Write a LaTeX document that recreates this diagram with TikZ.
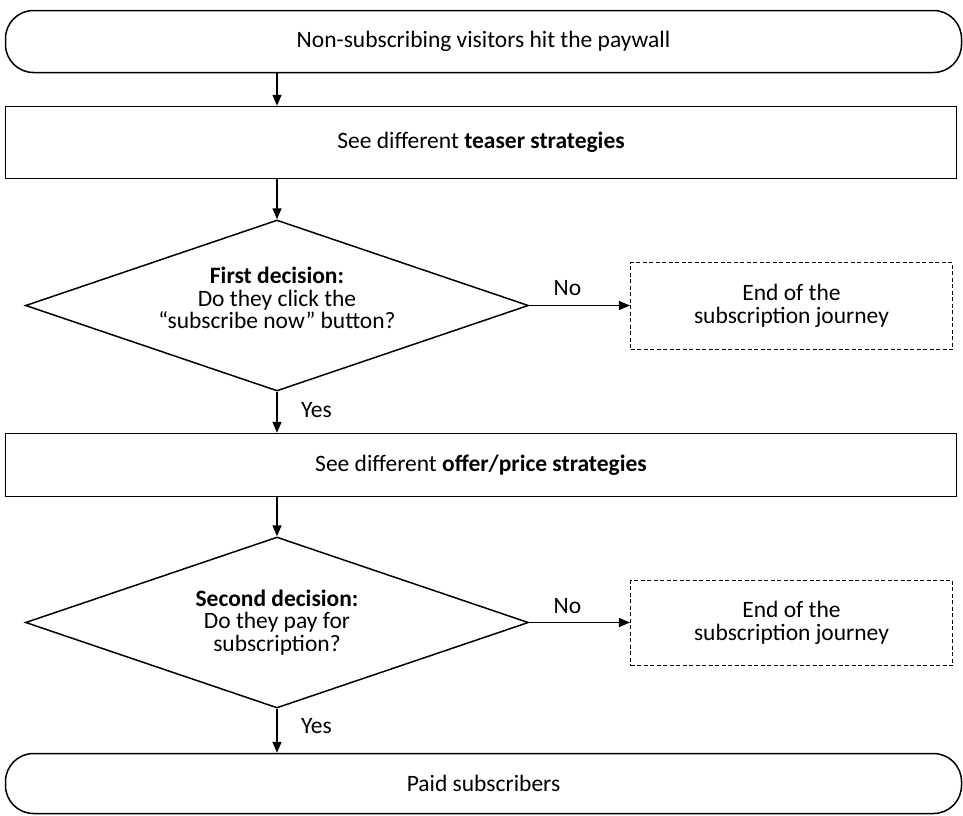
\documentclass[tikz,border=0pt]{standalone}
\usepackage{fontspec}
\setmainfont{Carlito}
\usetikzlibrary{positioning,shapes.geometric,arrows.meta}

\begin{document}
\begin{tikzpicture}[x=1pt, y=-1pt, line width=1.5pt,
    every node/.style={font=\fontsize{23.5}{22.5}\selectfont, align=center},
    >={Triangle[length=11pt,width=9pt]}]
    \useasboundingbox (0,0) rectangle (963,815);
    \node[draw, rounded corners=28pt, minimum width=956pt, minimum height=62pt] (hit) at (483.5,41.5) {Non-subscribing visitors hit the paywall};
    \node[draw, minimum width=951pt, minimum height=72pt] (teaser) at (481,142.5) {See different \textbf{teaser strategies}};
    \node[draw, diamond, aspect=3, inner sep=0pt, minimum width=503pt, minimum height=171pt] (click) at (277,305.5) {\textbf{First decision:}\\Do they click the\\“subscribe now” button?\rule[-15pt]{0pt}{0pt}};
    \node[draw, dash pattern=on 4pt off 2.5pt, line width=1.2pt, minimum width=322pt, minimum height=87pt] (endA) at (791.5,306) {End of the\\subscription journey};
    \node[draw, minimum width=951pt, minimum height=63pt] (offer) at (481,465) {See different \textbf{offer/price strategies}};
    \node[draw, diamond, aspect=3, inner sep=0pt, minimum width=503pt, minimum height=171pt] (pay) at (277,622.5) {\textbf{Second decision:}\\Do they pay for\\subscription?};
    \node[draw, dash pattern=on 4pt off 2.5pt, line width=1.2pt, minimum width=322pt, minimum height=85pt] (endB) at (791.5,623) {End of the\\subscription journey};
    \node[draw, rounded corners=28pt, minimum width=956pt, minimum height=60pt] (paid) at (483.5,783.5) {Paid subscribers};
    \draw[->] (hit.south -| click.north) -- (teaser.north -| click.north);
    \draw[->] (teaser.south -| click.north) -- (click.north);
    \draw[->] (click.east) -- node[pos=0.38, above=6pt] {No} (endA.west |- click.east);
    \draw[->] (click.south) -- node[pos=0.45, right=20pt] {Yes} (offer.north -| click.south);
    \draw[->] (offer.south -| pay.north) -- (pay.north);
    \draw[->] (pay.east) -- node[pos=0.38, above=5pt] {No} (endB.west |- pay.east);
    \draw[->] (pay.south) -- node[pos=0.4, right=20pt] {Yes} (paid.north -| pay.south);
\end{tikzpicture}
\end{document}
